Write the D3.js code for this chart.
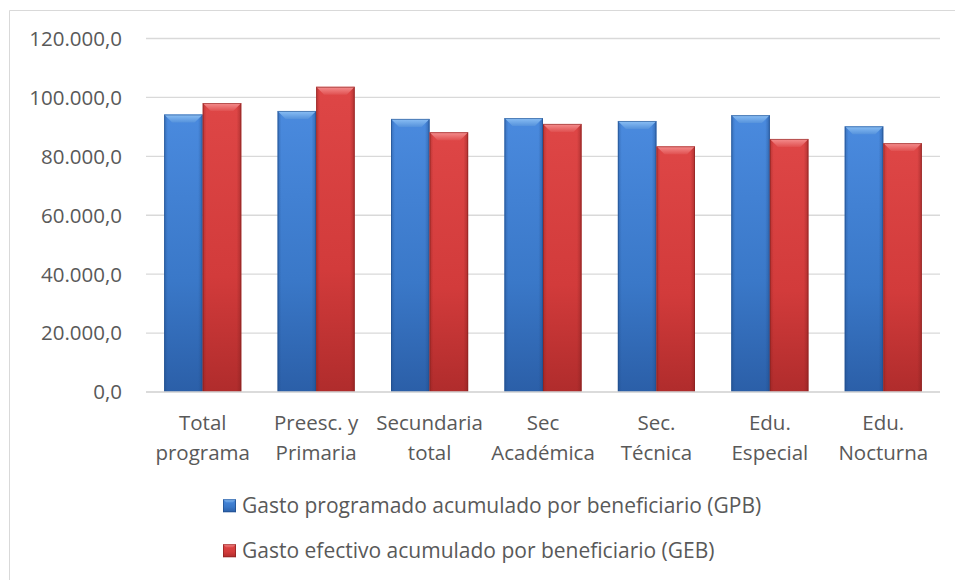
<!DOCTYPE html>
<html>
<head>
<meta charset="utf-8">
<script src="https://cdn.jsdelivr.net/npm/d3@7"></script>
<style>
  body { margin: 0; background: #fff; }
  text { font-family: "Open Sans", sans-serif; fill: #595959; }
  .grid line { stroke: #d9d9d9; stroke-width: 1.3; }
</style>
</head>
<body>
<div id="chart"></div>
<script>
// data
var categories = [
  ["Total", "programa"],
  ["Preesc. y", "Primaria"],
  ["Secundaria", "total"],
  ["Sec", "Académica"],
  ["Sec.", "Técnica"],
  ["Edu.", "Especial"],
  ["Edu.", "Nocturna"]
];
var gpb = [94200, 95400, 92700, 93000, 92000, 94000, 90200];
var geb = [98100, 103600, 88200, 91000, 83400, 85900, 84500];
var seriesNames = [
  "Gasto programado acumulado por beneficiario (GPB)",
  "Gasto efectivo acumulado por beneficiario (GEB)"
];
var yTicks = [0, 20000, 40000, 60000, 80000, 100000, 120000];

var width = 955, height = 580;
var plot = {left: 146, right: 940, top: 38.5, bottom: 392};

var svg = d3.select("#chart").append("svg")
  .attr("width", width).attr("height", height);

// frame (cropped on right / bottom)
svg.append("path")
  .attr("d", "M9.5,580 L9.5,10.5 L955,10.5")
  .attr("fill", "none").attr("stroke", "#d9d9d9").attr("stroke-width", 1);

var defs = svg.append("defs");
var palettes = [
  {id: "b", top: "#4a8ade", mid: "#3a78c8", bot: "#2b5fa8", edge: "#1f4a86", bevel: "#8cc0f5", bevel2: "#5592dc"},
  {id: "r", top: "#de4646", mid: "#d23b3b", bot: "#b02c2c", edge: "#85201f", bevel: "#f59090", bevel2: "#e05050"}
];
palettes.forEach(function(p) {
  var g = defs.append("linearGradient").attr("id", "v" + p.id)
    .attr("x1", 0).attr("y1", 0).attr("x2", 0).attr("y2", 1);
  g.append("stop").attr("offset", "0%").attr("stop-color", p.top);
  g.append("stop").attr("offset", "60%").attr("stop-color", p.mid);
  g.append("stop").attr("offset", "100%").attr("stop-color", p.bot);
  var h = defs.append("linearGradient").attr("id", "h" + p.id)
    .attr("x1", 0).attr("y1", 0).attr("x2", 1).attr("y2", 0);
  h.append("stop").attr("offset", "0%").attr("stop-color", p.edge).attr("stop-opacity", 0.4);
  h.append("stop").attr("offset", "10%").attr("stop-color", p.edge).attr("stop-opacity", 0);
  h.append("stop").attr("offset", "88%").attr("stop-color", p.edge).attr("stop-opacity", 0);
  h.append("stop").attr("offset", "100%").attr("stop-color", p.edge).attr("stop-opacity", 0.5);
  var t = defs.append("linearGradient").attr("id", "t" + p.id)
    .attr("x1", 0).attr("y1", 0).attr("x2", 0).attr("y2", 1);
  t.append("stop").attr("offset", "0%").attr("stop-color", p.bevel);
  t.append("stop").attr("offset", "100%").attr("stop-color", p.bevel2);
});

var y = d3.scaleLinear().domain([0, 120000]).range([plot.bottom, plot.top]);
var x = d3.scaleBand().domain(d3.range(categories.length))
  .range([plot.left, plot.right]).paddingInner(0.32).paddingOuter(0.16);
var xs = d3.scaleBand().domain([0, 1]).range([0, x.bandwidth()]);

// gridlines
svg.append("g").attr("class", "grid")
  .selectAll("line").data(yTicks).enter().append("line")
  .attr("x1", plot.left).attr("x2", plot.right)
  .attr("y1", function(d) { return y(d); })
  .attr("y2", function(d) { return y(d); });

// y labels
var fmt = function(d) {
  return d3.format(",.1f")(d).replace(/,/g, "#").replace(".", ",").replace(/#/g, ".");
};
svg.append("g").selectAll("text").data(yTicks).enter().append("text")
  .attr("x", 122).attr("y", function(d) { return y(d); })
  .attr("dy", "0.36em").attr("text-anchor", "end")
  .style("font-size", "20.5px").text(fmt);

// bars
var data = [gpb, geb];
function drawBar(g, x0, w, y0, y1, p, bvMax) {
  var bv = Math.min(bvMax, w / 4, (y1 - y0) / 2);
  g.append("rect").attr("x", x0).attr("y", y0).attr("width", w).attr("height", y1 - y0)
    .attr("fill", "url(#v" + p.id + ")");
  g.append("rect").attr("x", x0).attr("y", y0).attr("width", w).attr("height", y1 - y0)
    .attr("fill", "url(#h" + p.id + ")");
  g.append("path")
    .attr("d", "M" + x0 + "," + y0 + "L" + (x0 + w) + "," + y0 + "L" + (x0 + w - bv) + "," + (y0 + bv)
      + "L" + (x0 + bv) + "," + (y0 + bv) + "Z")
    .attr("fill", "url(#t" + p.id + ")");
  g.append("rect").attr("x", x0 + 0.5).attr("y", y0 + 0.5).attr("width", w - 1).attr("height", y1 - y0 - 1)
    .attr("fill", "none").attr("stroke", p.edge).attr("stroke-opacity", 0.55).attr("stroke-width", 1);
}
data.forEach(function(series, s) {
  var gs = svg.append("g");
  series.forEach(function(v, i) {
    drawBar(gs, x(i) + xs(s), xs.bandwidth(), y(v), y(0), palettes[s], 8);
  });
});

// baseline axis
svg.append("line").attr("x1", plot.left).attr("x2", plot.right)
  .attr("y1", y(0)).attr("y2", y(0))
  .attr("stroke", "#d9d9d9").attr("stroke-width", 1.5);

// category labels
var cat = svg.append("g").selectAll("text").data(categories).enter().append("text")
  .attr("text-anchor", "middle").style("font-size", "20.5px")
  .attr("transform", function(d, i) { return "translate(" + (x(i) + x.bandwidth() / 2) + ",0)"; });
cat.selectAll("tspan").data(function(d) { return d; }).enter().append("tspan")
  .attr("x", 0).attr("y", function(d, j) { return 423 + j * 30; })
  .attr("dy", "0.36em").text(function(d) { return d; });

// legend
var leg = svg.append("g").selectAll("g").data(seriesNames).enter().append("g")
  .attr("transform", function(d, i) { return "translate(223," + (505.7 + i * 45) + ")"; });
leg.each(function(d, i) {
  drawBar(d3.select(this), 0, 13, -6.5, 6.5, palettes[i], 5);
});
leg.append("text").attr("x", 19).attr("dy", "0.36em")
  .style("font-size", "21px").text(function(d) { return d; });
</script>
</body>
</html>
